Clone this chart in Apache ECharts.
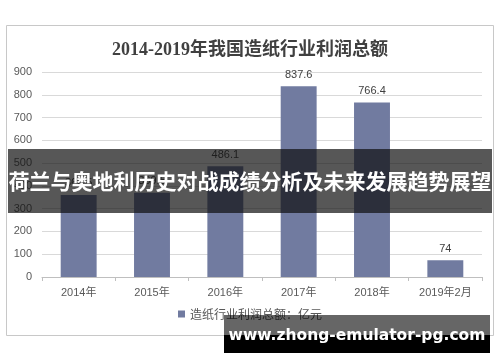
<!DOCTYPE html>
<html><head><meta charset="utf-8">
<script src="https://cdn.jsdelivr.net/npm/echarts@6/dist/echarts.min.js"></script>
<style>html,body{margin:0;padding:0;background:#fff}#c{width:500px;height:362px}</style>
</head><body><div id="c"></div>
<script>
var categories = ['2014年','2015年','2016年','2017年','2018年','2019年2月'];
var profits = [360.5, 369.5, 486.1, 837.6, 766.4, 74];
var yTicks = {min:0, max:900, interval:100};
var titleText = '2014-2019年我国造纸行业利润总额';
var seriesName = '造纸行业利润总额：亿元';
var bannerText = '荷兰与奥地利历史对战成绩分析及未来发展趋势展望';
var watermarkText = 'www.zhong-emulator-pg.com';

var chart = echarts.init(document.getElementById('c'), null, {renderer:'canvas'});
chart.setOption({
  animation:false,
  backgroundColor:'#fff',
  title:{text:titleText, left:'center', top:36,
    textStyle:{fontFamily:'Liberation Serif, "Noto Sans CJK SC"', fontWeight:'bold', fontSize:18, color:'#404040'}},
  grid:{left:42, right:18, top:72, bottom:85},
  legend:{bottom:37, left:'center', itemWidth:7, itemHeight:7, itemGap:4,
    icon:'rect', textStyle:{fontSize:12, color:'#595959', fontFamily:'"Noto Sans CJK SC"'}},
  xAxis:{type:'category', data:categories,
    axisLine:{lineStyle:{color:'#bfbfbf'}},
    axisTick:{show:true, length:4, lineStyle:{color:'#bfbfbf'}},
    axisLabel:{color:'#595959', fontSize:11, margin:10, fontFamily:'Arial, "Noto Sans CJK SC"'}},
  yAxis:{type:'value', min:yTicks.min, max:yTicks.max, interval:yTicks.interval,
    axisLine:{show:false}, axisTick:{show:false},
    axisLabel:{color:'#595959', fontSize:11, margin:10, fontFamily:'Arial'},
    splitLine:{lineStyle:{color:'#d9d9d9'}}},
  series:[{name:seriesName, type:'bar', data:profits, barWidth:'49%',
    itemStyle:{color:'#717ba0'},
    label:{show:true, position:'top', distance:6, color:'#404040', fontSize:11, fontFamily:'Arial'}}],
  graphic:[
    {type:'rect', shape:{x:6.5, y:25.5, width:487, height:310}, style:{fill:'none', stroke:'#c8c8c8', lineWidth:1}, z:-1},
    {type:'rect', shape:{x:8, y:149, width:484, height:64}, style:{fill:'rgba(15,15,15,0.7)'}, z:100},
    {type:'text', x:250, y:181, style:{text:bannerText, fill:'#fff', font:'bold 21px "Noto Sans CJK SC"', textAlign:'center', textVerticalAlign:'middle'}, z:101},
    {type:'rect', shape:{x:224, y:315, width:266, height:20}, style:{fill:'rgba(0,0,0,0.6)'}, z:100},
    {type:'rect', shape:{x:224, y:335, width:266, height:18}, style:{fill:'#000'}, z:100},
    {type:'text', x:357, y:336, style:{text:watermarkText, fill:'#fff', font:'bold 15.5px "DejaVu Sans"', textAlign:'center', textVerticalAlign:'middle'}, z:101}
  ]
});
</script></body></html>
